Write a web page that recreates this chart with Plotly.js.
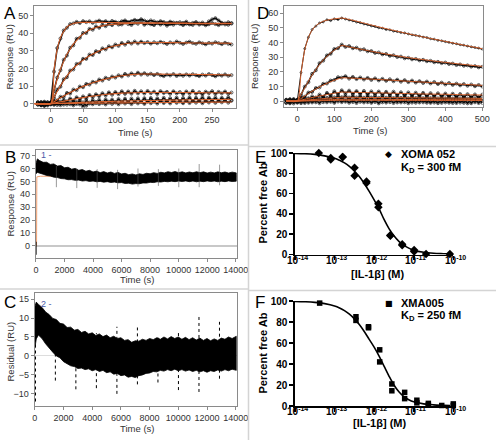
<!DOCTYPE html>
<html><head><meta charset="utf-8">
<script src="https://cdn.plot.ly/plotly-3.0.1.min.js"></script>
<style>html,body{margin:0;padding:0;background:#fff}#plot{width:496px;height:440px}</style>
</head><body><div id="plot"></div>
<script>
// ---------- Panel A : association sensorgrams ----------
const tA = [-20,-15,-10,-5,0,5,10,15,20,25,30,35,40,45,50,55,60,65,70,75,80,85,90,95,100,105,110,115,120,125,130,135,140,145,150,155,160,165,170,175,180,185,190,195,200,205,210,215,220,225,230,235,240,245,250,255,260,265,270,275,280];
const a1 = [0.6,-0.8,1.1,-0.3,0.4,18.2,31.6,37.0,41.6,43.1,45.2,45.6,46.5,45.8,46.9,46.3,46.8,45.9,46.6,47.2,46.4,46.9,46.1,47.0,46.5,46.0,46.8,47.3,46.4,46.9,47.6,47.1,48.0,47.2,46.6,47.3,46.8,46.2,46.9,46.4,45.8,46.6,46.1,45.7,46.3,45.9,46.6,45.4,45.9,46.4,45.6,46.1,45.3,46.8,47.9,48.6,47.3,46.0,45.6,46.3,45.8];
const a2 = [-0.5,0.9,-1.2,0.7,-0.2,7.0,14.8,19.0,24.9,27.3,31.8,33.1,36.9,37.4,40.2,40.1,42.5,42.0,43.9,43.1,44.8,44.0,45.3,44.6,45.8,44.9,45.0,46.1,45.2,44.7,45.9,45.4,46.3,44.8,45.6,45.1,44.6,45.7,44.9,45.5,44.3,45.2,44.8,45.9,45.3,44.6,45.4,45.0,44.7,45.6,44.9,45.3,44.5,45.1,45.8,45.2,44.6,45.4,45.0,44.8,45.5];
const a3 = [0.3,-1.0,0.5,-0.6,0.8,3.1,8.0,9.6,13.9,15.0,18.8,19.4,22.6,22.8,25.5,25.4,27.9,27.6,29.8,29.3,31.4,30.8,32.6,32.0,33.6,32.8,34.5,33.5,35.0,34.1,35.3,34.2,35.2,34.4,35.0,34.1,34.9,34.3,35.1,34.6,33.9,34.8,34.2,35.3,34.6,33.9,34.7,35.2,34.4,34.0,34.8,34.3,33.7,34.5,34.1,34.9,34.4,33.8,34.6,34.0,33.6];
const a4 = [-0.4,0.7,-0.9,0.4,-0.3,1.6,1.8,3.9,3.8,6.1,5.7,8.0,7.6,9.7,9.3,11.2,10.8,12.4,12.0,13.7,13.1,14.7,14.0,15.4,14.8,16.1,15.4,16.9,16.0,17.2,16.3,17.6,16.5,17.3,16.4,17.0,16.2,16.9,16.1,15.6,16.5,16.0,16.8,15.7,16.4,15.8,16.6,15.9,16.7,16.1,15.6,16.5,15.9,16.8,16.2,15.5,16.4,15.9,16.6,15.8,16.2];
const a5 = [0.9,-0.5,0.2,-1.1,0.6,-0.4,1.5,0.3,2.2,1.0,2.9,1.8,3.6,2.4,4.1,3.0,4.9,3.6,5.3,4.2,5.9,4.6,6.4,5.0,6.6,5.3,7.0,5.5,6.9,5.6,7.3,5.8,7.0,5.7,7.2,5.9,6.8,5.4,7.1,6.0,6.7,5.5,7.0,5.8,6.6,5.3,6.9,5.7,7.2,5.6,6.5,5.2,6.8,5.9,7.1,5.4,6.7,5.8,6.9,5.5,6.3];
const a6 = [-0.6,0.4,-1.3,0.8,-0.5,0.9,-0.8,1.1,-0.6,1.3,-0.4,1.5,-0.3,1.6,-1.8,1.9,0.0,2.0,0.2,2.2,0.3,2.4,0.5,2.3,0.6,2.6,0.7,2.8,0.8,2.9,0.9,3.0,1.0,3.1,1.1,3.2,1.2,3.0,1.3,3.3,1.4,3.1,1.5,3.4,1.4,3.2,1.6,3.5,1.5,3.3,1.7,3.6,1.6,3.4,1.8,3.5,1.7,3.3,1.9,3.6,2.0];
const a7 = [0.5,-0.9,0.7,-0.4,0.3,-0.7,0.6,-0.9,0.8,-0.6,0.5,-1.0,0.9,-0.5,0.7,-1.2,0.6,-0.4,1.0,-0.3,0.8,-0.5,1.1,-0.2,0.9,-0.4,1.2,0.0,1.0,-0.3,1.3,0.1,1.1,-0.2,1.4,0.2,1.2,0.0,1.5,0.3,1.3,0.1,1.6,0.4,1.2,0.2,1.7,0.3,1.4,0.5,1.6,0.2,1.5,0.6,1.8,0.4,1.5,0.7,1.7,0.5,1.6];
const tFitA = [-25,0,5,10,15,20,25,30,35,40,45,50,55,60,70,80,90,100,110,120,130,140,160,180,200,220,240,260,280];
const fa1 = [0,0,19,31,37.5,41,43.5,44.8,45.5,45.9,46.1,46.2,46.2,46.2,46.2,46.2,46.1,46.1,46.0,46.0,46.0,45.9,45.9,45.8,45.8,45.7,45.7,45.6,45.6];
const fa2 = [0,0,7.5,14,19.5,24,28,31,33.8,36,38,39.5,40.8,41.8,43.3,44.2,44.8,45.2,45.4,45.6,45.7,45.7,45.7,45.6,45.6,45.5,45.5,45.4,45.4];
const fa3 = [0,0,3.6,7,10.2,13,15.7,18,20,21.8,23.3,24.7,26,27.2,29.1,30.7,31.9,32.9,33.7,34.3,34.6,34.7,34.7,34.7,34.6,34.5,34.4,34.4,34.3];
const fa4 = [0,0,1.1,2.2,3.3,4.3,5.3,6.3,7.3,8.2,9.0,9.8,10.5,11.2,12.4,13.5,14.4,15.2,15.8,16.3,16.6,16.8,16.8,16.7,16.7,16.6,16.5,16.4,16.3];
const fa5 = [0,0,0.35,0.7,1.05,1.4,1.75,2.1,2.45,2.8,3.1,3.4,3.7,4.0,4.5,5.0,5.4,5.7,5.95,6.1,6.2,6.3,6.3,6.3,6.3,6.25,6.2,6.15,6.1];
const fa6 = [0,0,0.08,0.15,0.23,0.3,0.38,0.45,0.52,0.6,0.66,0.72,0.79,0.85,0.98,1.1,1.2,1.3,1.4,1.5,1.58,1.65,1.8,1.95,2.05,2.15,2.25,2.35,2.4];
const fa7 = [0,0,0.02,0.04,0.06,0.08,0.09,0.11,0.13,0.15,0.17,0.19,0.21,0.23,0.26,0.3,0.34,0.38,0.41,0.45,0.49,0.53,0.6,0.65,0.7,0.75,0.8,0.85,0.9];

// ---------- Panel D : association + dissociation ----------
const tD = [-30,-20,-10,0,10,20,30,40,50,60,70,80,90,100,110,120,130,140,150,160,170,180,190,200,210,220,230,240,250,260,270,280,290,300,310,320,330,340,350,360,370,380,390,400,410,420,430,440,450,460,470,480,490,500];
const d1 = [0.5,-0.6,0.8,0.2,19.5,35.8,43.6,48.9,51.2,53.4,54.1,55.6,55.0,56.2,55.7,56.8,56.1,55.4,54.9,54.0,53.6,52.7,52.2,51.4,51.0,50.1,49.8,48.9,48.7,47.8,47.5,46.8,46.6,45.9,45.3,44.9,44.4,43.7,43.4,42.6,42.3,41.5,41.2,40.6,40.1,39.5,39.2,38.5,38.2,37.6,37.1,36.6,36.2,35.5];
const d2 = [-0.8,0.9,-0.5,0.6,4.0,9.8,12.9,18.6,21.0,25.9,27.6,31.2,32.3,35.6,36.1,38.6,37.0,37.6,36.1,36.5,35.1,35.4,34.0,34.2,32.9,33.2,31.9,32.2,30.9,31.3,30.1,30.4,29.2,29.6,28.5,28.8,27.8,28.2,27.2,27.5,26.5,26.8,25.9,26.3,25.3,25.6,24.6,25.0,24.1,24.4,23.5,23.9,23.0,23.4];
const d3 = [0.6,-0.9,0.4,-0.5,2.3,2.9,5.8,6.2,8.9,9.3,11.8,12.0,14.0,14.4,16.3,16.0,17.0,15.3,16.5,15.0,16.1,14.7,15.8,14.4,15.5,14.1,15.2,13.8,14.9,13.5,14.6,13.2,14.3,12.9,14.0,12.6,13.6,12.3,13.3,12.0,13.0,11.6,12.6,11.3,12.3,11.0,11.9,10.7,11.6,10.4,11.3,10.1,11.0,9.9];
const d4 = [-1.0,1.2,-0.6,0.9,-0.5,2.0,0.7,3.2,1.8,4.4,2.9,5.6,3.8,6.7,4.6,7.3,5.2,7.1,4.9,6.8,4.7,6.9,4.5,6.6,4.4,6.5,4.2,6.3,4.1,6.4,3.9,6.0,3.8,5.9,3.6,5.7,3.5,5.6,3.3,5.4,3.2,5.3,3.0,5.1,2.9,5.0,2.7,4.8,2.6,4.7,2.5,4.5,2.3,4.4];
const d5 = [0.9,-1.1,1.3,-0.8,1.1,-0.6,1.9,-0.2,2.4,0.3,2.8,0.6,3.3,1.0,3.6,1.4,3.8,1.2,3.7,1.1,3.5,0.9,3.6,1.0,3.3,0.8,3.4,0.7,3.2,0.9,3.1,0.6,3.3,0.7,3.0,0.5,3.1,0.6,2.9,0.4,3.0,0.5,2.8,0.3,2.9,0.4,2.7,0.2,2.8,0.3,2.6,0.1,2.7,0.2];
const d6 = [-1.4,1.0,-1.7,0.8,-1.5,1.4,-1.2,1.8,-0.9,2.0,-0.8,2.2,-0.6,2.5,-0.4,2.6,-0.5,2.4,-0.7,2.5,-0.6,2.3,-0.8,2.4,-0.7,2.2,-0.9,2.3,-0.8,2.1,-1.0,2.2,-0.9,2.0,-1.1,2.1,-1.0,1.9,-1.2,2.0,-1.1,1.8,-1.3,1.9,-1.2,1.7,-1.4,1.8,-1.3,1.6,-1.5,1.7,-1.4,1.5];
const d7 = [0.7,-1.6,1.1,-1.2,0.9,-1.4,1.2,-1.0,0.8,-1.5,1.3,-0.9,1.0,-1.3,1.4,-0.8,1.1,-1.2,0.9,-1.4,1.2,-1.0,1.5,-1.3,0.8,-1.6,1.1,-1.1,1.3,-1.4,0.9,-1.0,1.2,-1.5,1.0,-1.2,1.4,-0.9,1.1,-1.3,0.8,-1.5,1.2,-1.0,0.9,-1.4,1.3,-1.1,1.0,-1.6,1.2,-0.9,1.1,-1.3];
const tFitD = [-30,0,10,20,30,40,50,60,70,80,90,100,110,120,140,160,180,200,250,300,350,400,450,500];
const fd1 = [0,0,19,35,43.5,48.5,51.5,53.3,54.5,55.3,55.8,56.2,56.5,56.8,55.8,54.6,53.3,52.0,48.9,46.0,43.3,40.8,38.2,35.8];
const fd2 = [0,0,4.5,9,13.5,17.8,21.5,25,28,30.5,32.8,34.8,36.5,38,37.0,36.0,35.0,34.0,31.7,29.7,28.0,26.4,25.0,23.7];
const fd3 = [0,0,1.7,3.4,5.1,6.7,8.2,9.6,10.9,12.1,13.2,14.2,15.1,15.9,15.7,15.5,15.2,15.0,14.3,13.5,12.8,12.1,11.4,10.7];
const fd4 = [0,0,0.6,1.2,1.8,2.4,2.9,3.4,3.9,4.4,4.9,5.3,5.7,6.1,6.0,5.9,5.8,5.7,5.4,5.1,4.8,4.6,4.3,4.1];
const fd5 = [0,0,0.25,0.5,0.75,1,1.2,1.4,1.6,1.8,2.0,2.2,2.4,2.6,2.55,2.5,2.45,2.4,2.3,2.2,2.1,2.0,1.9,1.8];
const fd6 = [0,0,0.1,0.2,0.3,0.4,0.5,0.6,0.7,0.8,0.9,1.0,1.1,1.2,1.18,1.16,1.14,1.12,1.07,1.02,0.97,0.92,0.88,0.84];
const fd7 = [0,0,0.04,0.08,0.12,0.16,0.2,0.24,0.28,0.32,0.36,0.4,0.44,0.48,0.47,0.46,0.45,0.44,0.42,0.4,0.38,0.36,0.34,0.32];

// ---------- Panels B and C : long dissociation and residuals (envelopes of the dense trace) ----------
const tLong = [0,100,250,500,750,1000,1250,1500,1750,2000,2250,2500,2750,3000,3250,3500,3750,4000,4250,4500,4750,5000,5250,5500,5750,6000,6250,6500,6750,7000,7250,7500,7750,8000,8250,8500,8750,9000,9250,9500,9750,10000,10250,10500,10750,11000,11250,11500,11750,12000,12250,12500,12750,13000,13250,13500,13750,14050];
const bUpper = [64,67.5,66.2,64.8,64.9,63.2,63.6,61.9,62.3,60.6,61.0,59.5,60.1,58.6,59.2,57.9,58.6,57.3,58.0,56.8,57.6,56.5,57.3,56.2,57.0,55.8,56.3,55.2,55.8,55.0,55.9,55.4,56.3,55.9,56.8,56.2,57.1,56.6,57.5,56.9,57.6,56.8,57.4,56.6,57.3,56.7,57.5,56.8,57.4,56.5,57.2,56.6,57.4,56.7,57.3,56.5,57.2,56.6];
const bLower = [56,57,56.2,55.6,54.6,54.2,53.3,53.0,52.2,52.0,51.3,51.4,50.8,51.0,50.3,50.6,50.0,50.3,49.7,50.0,49.4,49.8,49.2,49.5,48.9,49.1,48.4,48.6,47.9,48.3,48.2,48.8,48.7,49.3,49.1,49.7,49.5,50.0,49.7,50.2,49.8,50.3,49.9,50.4,49.8,50.3,49.7,50.2,49.8,50.4,49.9,50.3,49.7,50.2,49.8,50.4,49.9,50.2];
const cUpper = [13,14.2,13.6,12.8,11.6,10.9,9.9,9.6,8.6,8.4,7.5,7.6,6.8,7.0,6.2,6.5,5.8,6.1,5.4,5.8,5.1,5.5,4.8,5.2,4.6,4.8,4.1,4.3,3.6,4.0,3.9,4.4,4.1,4.6,4.3,4.8,4.4,5.0,4.5,5.1,4.6,5.0,4.4,4.9,4.3,4.8,4.2,4.7,4.1,4.6,4.0,4.5,4.1,4.7,4.4,5.0,4.6,5.2];
const cLower = [2,4.5,5.5,4.6,3.2,2.0,1.0,0.0,-0.5,-1.5,-2.0,-2.6,-2.8,-3.3,-3.2,-3.6,-3.4,-3.9,-3.6,-4.1,-3.8,-4.4,-4.2,-4.8,-4.6,-5.2,-5.0,-5.6,-5.4,-5.7,-5.2,-5.0,-4.6,-4.5,-4.1,-4.2,-3.8,-4.0,-3.6,-3.9,-3.5,-3.9,-3.6,-4.0,-3.7,-4.1,-3.8,-4.2,-3.9,-4.3,-3.9,-4.1,-3.7,-4.0,-3.6,-3.9,-3.5,-3.8];
const spikeT   = [1430,2860,4290,5720,7150,8580,10010,11440,12870];
const bSpikeLo = [45.5,44.8,45,44,46,46.5,45.5,45.5,47];
const bSpikeHi = [62,60,59.5,59,60,59.5,60,63.5,63];
const cSpikeLo = [-6.5,-8.8,-8.5,-10,-7.5,-7,-9,-9.5,-6];
const cSpikeHi = [9,6,6,7.7,7.5,5.5,6.5,10.5,9];
const bStartT = [0,0], bStartY = [-7,3];
const cStartT = [30,30], cStartY = [-12,12.5];
const bFitT = [-20,40,60,300,14050];
const bFitY = [0,0,53.5,54,54];
const longTicks = [0,2000,4000,6000,8000,10000,12000,14000];
const longTickText = ['0','2000','4000','6000','8000','10000','12000','14000'];

// ---------- Panels E and F : solution equilibrium titrations ----------
const eConc = [4e-14,8e-14,8e-14,1.6e-13,1.6e-13,3.2e-13,3.2e-13,6.4e-13,6.4e-13,1.28e-12,1.28e-12,2.56e-12,2.56e-12,5.12e-12,5.12e-12,1.024e-11,1.024e-11,2.048e-11,8.192e-11];
const eFree = [100,95,93.5,96,96,85.5,77.5,72,70.5,50,46.5,19,18.5,10,9,4.5,3,0.5,0.5];
const fConc = [4.2e-14,3.47e-13,3.47e-13,7.2e-13,7.2e-13,1.38e-12,1.38e-12,2.8e-12,2.8e-12,5.9e-12,5.9e-12,1.2e-11,1.2e-11,2.34e-11,2.34e-11,5.1e-11,1e-10,1e-10];
const fFree = [98,85,81.5,75.5,74.5,53.5,42,21,14.5,13,7,5.5,3,2.5,1,0.5,2,0.5];
const curveConc = [1e-14,1.778e-14,3.162e-14,5.623e-14,1e-13,1.334e-13,1.778e-13,2.371e-13,3.162e-13,4.217e-13,5.623e-13,7.499e-13,1e-12,1.334e-12,1.778e-12,2.371e-12,3.162e-12,4.217e-12,5.623e-12,7.499e-12,1e-11,1.778e-11,3.162e-11,5.623e-11,8.3e-11];
const eCurve = [99.6,99.3,98.6,97.2,94.8,92.8,90.3,86.8,82.3,76.8,70.0,62.2,53.8,45.0,34.5,25.5,18.5,13.0,9.0,6.3,4.3,2.2,1.2,0.8,0.6];
const fCurve = [99.6,99.3,98.7,97.5,95.3,93.4,90.8,87.4,83.0,77.6,71.0,63.5,56.0,47.5,38.0,28.5,20.0,13.5,9.0,6.0,4.0,2.0,1.1,0.7,0.5];
const logTicks = [1e-14,1e-13,1e-12,1e-11,1e-10];
const logTickText = ['10<sup>-14</sup>','10<sup>-13</sup>','10<sup>-12</sup>','10<sup>-11</sup>','10<sup>-10</sup>'];

// ---------- build ----------
const W = 496, H = 440;
const px = v => v / W, py = v => 1 - v / H;
const ORANGE = '#d4602c';
const traces = [];
function dataTrace(x, y, xa, ya, w, ms) {
  return {x, y, xaxis: xa, yaxis: ya, type: 'scatter', mode: 'lines+markers', hoverinfo: 'skip',
    line: {color: '#111', width: w}, marker: {symbol: 'circle-open', size: ms, color: '#000', line: {width: 0.6}}};
}
function fitTrace(x, y, xa, ya, w) {
  return {x, y, xaxis: xa, yaxis: ya, type: 'scatter', mode: 'lines', hoverinfo: 'skip',
    line: {color: ORANGE, width: w, shape: 'spline', smoothing: 0.6}};
}
[a1,a2,a3,a4,a5,a6,a7].forEach(a => traces.push(dataTrace(tA, a, 'x', 'y', 1.5, 3)));
[fa1,fa2,fa3,fa4,fa5,fa6,fa7].forEach(f => traces.push(fitTrace(tFitA, f, 'x', 'y', 1.1)));
traces.push(dataTrace(tD, d1, 'x2', 'y2', 1.0, 2));
[d2,d3,d4,d5,d6,d7].forEach(d => traces.push(dataTrace(tD, d, 'x2', 'y2', 1.5, 3)));
[fd1,fd2,fd3,fd4,fd5,fd6,fd7].forEach(f => traces.push(fitTrace(tFitD, f, 'x2', 'y2', 1.0)));

function spikes(t, lo, hi) {
  const x = [], y = [];
  t.forEach((v, i) => { x.push(v, v, null); y.push(lo[i], hi[i], null); });
  return {x, y};
}
// B
traces.push({x: bFitT, y: bFitY, xaxis: 'x3', yaxis: 'y3', mode: 'lines', line: {color: '#f0a070', width: 1}, hoverinfo: 'skip'});
traces.push({x: tLong.concat(tLong.slice().reverse()), y: bUpper.concat(bLower.slice().reverse()), xaxis: 'x3', yaxis: 'y3',
  mode: 'lines', fill: 'toself', fillcolor: '#000', line: {color: '#000', width: 0.8}, hoverinfo: 'skip'});
const bs = spikes(spikeT, bSpikeLo, bSpikeHi);
traces.push({x: bs.x, y: bs.y, xaxis: 'x3', yaxis: 'y3', mode: 'lines', line: {color: '#555', width: 0.6}, hoverinfo: 'skip'});
traces.push({x: bStartT, y: bStartY, xaxis: 'x3', yaxis: 'y3', mode: 'lines', line: {color: '#000', width: 1.2}, hoverinfo: 'skip'});
// C
traces.push({x: tLong.concat(tLong.slice().reverse()), y: cUpper.concat(cLower.slice().reverse()), xaxis: 'x5', yaxis: 'y5',
  mode: 'lines', fill: 'toself', fillcolor: '#000', line: {color: '#000', width: 0.8}, hoverinfo: 'skip'});
const cs = spikes(spikeT, cSpikeLo, cSpikeHi);
traces.push({x: cs.x, y: cs.y, xaxis: 'x5', yaxis: 'y5', mode: 'lines', line: {color: '#000', width: 1, dash: 'dot'}, hoverinfo: 'skip'});
traces.push({x: cStartT, y: cStartY, xaxis: 'x5', yaxis: 'y5', mode: 'lines', line: {color: '#000', width: 1.5, dash: 'dot'}, hoverinfo: 'skip'});
// E, F
traces.push({x: curveConc, y: eCurve, xaxis: 'x4', yaxis: 'y4', mode: 'lines', line: {color: '#000', width: 1.6, shape: 'spline'}, hoverinfo: 'skip', cliponaxis: false});
traces.push({x: eConc, y: eFree, xaxis: 'x4', yaxis: 'y4', mode: 'markers', marker: {symbol: 'diamond', size: 6.5, color: '#000'}, hoverinfo: 'skip', cliponaxis: false});
traces.push({x: curveConc, y: fCurve, xaxis: 'x6', yaxis: 'y6', mode: 'lines', line: {color: '#000', width: 1.6, shape: 'spline'}, hoverinfo: 'skip', cliponaxis: false});
traces.push({x: fConc, y: fFree, xaxis: 'x6', yaxis: 'y6', mode: 'markers', marker: {symbol: 'square', size: 5.5, color: '#000'}, hoverinfo: 'skip', cliponaxis: false});

const FONT = 'Liberation Sans, Arial, sans-serif';
const frame = {showline: true, mirror: true, linecolor: '#8a8a8a', linewidth: 1, ticks: 'outside', ticklen: 3,
  tickcolor: '#8a8a8a', tickwidth: 1, showgrid: false, zeroline: false, fixedrange: true,
  tickfont: {family: FONT, size: 9, color: '#333'}, exponentformat: 'none', separatethousands: false};
const prism = {showline: true, linecolor: '#000', linewidth: 1.6, ticks: 'outside', ticklen: 4, tickcolor: '#000',
  tickwidth: 1.6, showgrid: false, zeroline: false, fixedrange: true,
  tickfont: {family: FONT, size: 10, color: '#000', weight: 'bold'}};

const layout = {
  width: W, height: H, margin: {l: 0, r: 0, t: 0, b: 0}, showlegend: false,
  paper_bgcolor: '#fff', plot_bgcolor: 'rgba(0,0,0,0)',
  xaxis:  Object.assign({}, frame, {domain: [px(34), px(236)], anchor: 'y', range: [-26, 287], tickvals: [0,50,100,150,200,250]}),
  yaxis:  Object.assign({}, frame, {domain: [py(108), py(6)], anchor: 'x', range: [-2.5, 55.5], tickvals: [0,10,20,30,40,50]}),
  xaxis2: Object.assign({}, frame, {domain: [px(284), px(482.7)], anchor: 'y2', range: [-36, 501], tickvals: [0,100,200,300,400,500]}),
  yaxis2: Object.assign({}, frame, {domain: [py(107.3), py(6)], anchor: 'x2', range: [-4.3, 65], tickvals: [0,10,20,30,40,50,60]}),
  xaxis3: Object.assign({}, frame, {domain: [px(35.7), px(236.7)], anchor: 'y3', range: [-20, 14070], tickvals: longTicks, ticktext: longTickText}),
  yaxis3: Object.assign({}, frame, {domain: [py(257.7), py(150)], anchor: 'x3', range: [-9.3, 74.4], tickvals: [0,10,20,30,40,50,60,70],
    zeroline: true, zerolinecolor: '#c8c8c8', zerolinewidth: 2}),
  xaxis5: Object.assign({}, frame, {domain: [px(34.7), px(236.7)], anchor: 'y5', range: [-10, 14070], tickvals: longTicks, ticktext: longTickText}),
  yaxis5: Object.assign({}, frame, {domain: [py(406), py(293)], anchor: 'x5', range: [-13.2, 16.6], tickvals: [-10,-5,0,5,10,15],
    zeroline: true, zerolinecolor: '#dddddd', zerolinewidth: 1}),
  xaxis4: Object.assign({}, prism, {domain: [px(295), px(453.3)], anchor: 'y4', type: 'log', range: [-14, -10], tickvals: logTicks, showticklabels: false}),
  yaxis4: Object.assign({}, prism, {domain: [py(254.5), py(153)], anchor: 'x4', range: [0, 100], tickvals: [0,20,40,60,80,100]}),
  xaxis6: Object.assign({}, prism, {domain: [px(295), px(453.3)], anchor: 'y6', type: 'log', range: [-14, -10], tickvals: logTicks, showticklabels: false}),
  yaxis6: Object.assign({}, prism, {domain: [py(406), py(301)], anchor: 'x6', range: [0, 100], tickvals: [0,20,40,60,80,100]}),
  shapes: [
    {type: 'line', xref: 'paper', yref: 'paper', x0: px(248.5), x1: px(248.5), y0: 0, y1: 1, line: {color: '#d4d4d4', width: 1.5}},
    {type: 'line', xref: 'paper', yref: 'paper', x0: 0, x1: px(248.5), y0: py(145), y1: py(145), line: {color: '#d4d4d4', width: 1.5}},
    {type: 'line', xref: 'paper', yref: 'paper', x0: px(248.5), x1: 1, y0: py(146.5), y1: py(146.5), line: {color: '#d4d4d4', width: 1.5}},
    {type: 'line', xref: 'paper', yref: 'paper', x0: 0, x1: px(248.5), y0: py(289), y1: py(289), line: {color: '#d4d4d4', width: 1.5}},
    {type: 'line', xref: 'paper', yref: 'paper', x0: px(248.5), x1: 1, y0: py(290.5), y1: py(290.5), line: {color: '#d4d4d4', width: 1.5}}
  ],
  annotations: []
};
function ann(text, x, y, opts) {
  layout.annotations.push(Object.assign({text, x: px(x), y: py(y), xref: 'paper', yref: 'paper', showarrow: false,
    xanchor: 'center', yanchor: 'middle', font: {family: FONT, size: 9.5, color: '#333'}}, opts || {}));
}
const letter = {font: {family: FONT, size: 17, color: '#000'}};
ann('A', 10, 13.5, letter); ann('D', 263, 13.5, letter); ann('B', 10, 157, letter);
ann('C', 10, 302, letter); ann('E', 260, 157, letter); ann('F', 260, 302, letter);
ann('Response (RU)', 9.5, 57, {textangle: -90});
ann('Time (s)', 135, 132.3);
ann('Response (RU)', 255, 57, {textangle: -90});
ann('Time (s)', 370, 130.7);
ann('Response (RU)', 9.5, 204, {textangle: -90});
ann('Time (s)', 136.7, 279);
ann('Residual (RU)', 9.5, 352, {textangle: -90});
ann('Time (s)', 136.7, 428);
ann('1 -', 46, 155, {font: {family: FONT, size: 9, color: '#4a5aa8'}});
ann('2 -', 46, 303.5, {font: {family: FONT, size: 9, color: '#4a5aa8'}});
const bold = {font: {family: FONT, size: 11, color: '#000', weight: 'bold'}};
const tickBold = {family: FONT, size: 10, color: '#000', weight: 'bold'};
// log-axis tick labels (10^n) for E and F
logTicks.forEach((v, i) => {
  layout.annotations.push({text: logTickText[i], xref: 'x4', yref: 'paper', x: Math.log10(v), y: py(260), xshift: 2,
    showarrow: false, xanchor: 'center', yanchor: 'middle', font: tickBold});
  layout.annotations.push({text: logTickText[i], xref: 'x6', yref: 'paper', x: Math.log10(v), y: py(411), xshift: 2,
    showarrow: false, xanchor: 'center', yanchor: 'middle', font: tickBold});
});
ann('Percent free Ab', 262, 203.5, Object.assign({textangle: -90}, bold));
ann('[IL-1β] (M)', 377, 274, bold);
ann('Percent free Ab', 262, 353.5, Object.assign({textangle: -90}, bold));
ann('[IL-1β] (M)', 379, 423, bold);
ann('◆', 388.3, 154, {font: {family: 'DejaVu Sans', size: 9, color: '#000'}});
ann('XOMA 052', 399, 154, Object.assign({xanchor: 'left'}, bold));
ann('K<sub>D</sub> = 300 fM', 399, 167.7, Object.assign({xanchor: 'left'}, bold));
ann('■', 389.3, 303.3, {font: {family: 'DejaVu Sans', size: 8, color: '#000'}});
ann('XMA005', 399, 303.3, Object.assign({xanchor: 'left'}, bold));
ann('K<sub>D</sub> = 250 fM', 399, 315.5, Object.assign({xanchor: 'left'}, bold));

Plotly.newPlot('plot', traces, layout, {staticPlot: true, displayModeBar: false});
</script></body></html>
